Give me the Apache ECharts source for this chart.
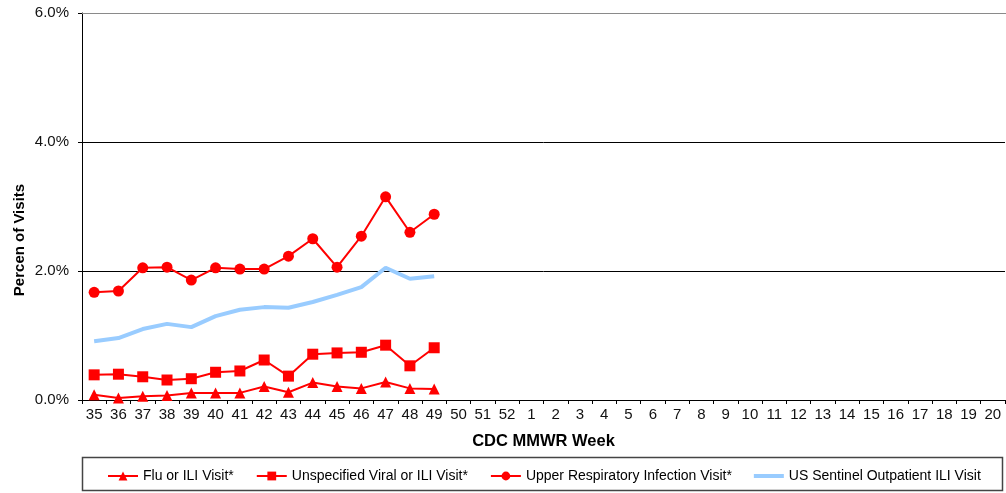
<!DOCTYPE html>
<html><head><meta charset="utf-8">
<script src="https://cdn.jsdelivr.net/npm/echarts@6/dist/echarts.min.js"></script>
<style>html,body{margin:0;padding:0;background:#fff}#c{width:1006px;height:493px}</style>
</head><body><div id="c"></div>
<script>
const weeks = ['35','36','37','38','39','40','41','42','43','44','45','46','47','48','49','50','51','52','1','2','3','4','5','6','7','8','9','10','11','12','13','14','15','16','17','18','19','20'];
const fluILI = [0.08,0.03,0.06,0.07,0.11,0.11,0.11,0.21,0.12,0.27,0.21,0.18,0.28,0.18,0.17];
const unspecViral = [0.39,0.40,0.36,0.31,0.33,0.43,0.45,0.62,0.37,0.71,0.73,0.74,0.85,0.53,0.81];
const upperResp = [1.67,1.69,2.05,2.06,1.86,2.05,2.03,2.03,2.23,2.50,2.06,2.54,3.15,2.60,2.88];
const sentinel = [0.91,0.96,1.10,1.18,1.13,1.30,1.40,1.44,1.43,1.52,1.63,1.75,2.05,1.88,1.92];
const yTicks = [0,2,4,6];

const chart = echarts.init(document.getElementById('c'));
const font = 'Liberation Sans, Arial, sans-serif';
const red = '#ff0000';
function redSeries(name, data, symbol, size){
  return {name, type:'line', data, symbol, symbolSize:size, showSymbol:true,
    lineStyle:{color:red,width:2}, itemStyle:{color:red}, emphasis:{disabled:true}};
}
chart.setOption({
  animation:false,
  grid:{left:82,right:1,top:13,bottom:93},
  xAxis:{type:'category',data:weeks,boundaryGap:true,
    name:'CDC MMWR Week',nameLocation:'middle',nameGap:33,
    nameTextStyle:{fontFamily:font,fontSize:16.5,fontWeight:'bold',color:'#000'},
    axisLine:{lineStyle:{color:'#000',width:1}},
    axisTick:{show:true,alignWithLabel:false,length:4,lineStyle:{color:'#000'}},
    axisLabel:{fontFamily:font,fontSize:15,color:'#111',margin:7,interval:0},
    splitLine:{show:false}},
  yAxis:{type:'value',min:0,max:6,interval:2,
    axisLine:{show:true,lineStyle:{color:'#000',width:1}},
    axisTick:{show:true,length:4,lineStyle:{color:'#000'}},
    axisLabel:{fontFamily:font,fontSize:15,color:'#111',margin:13,
      formatter:v=>yTicks.includes(v)?v.toFixed(1)+'%':''},
    splitLine:{show:true,lineStyle:{color:'#000',width:1}}},
  legend:{bottom:5,left:102,itemWidth:30,itemHeight:11,itemGap:22,
    textStyle:{fontFamily:font,fontSize:14,color:'#000'},
    data:['Flu or ILI Visit*','Unspecified Viral or ILI Visit*','Upper Respiratory Infection Visit*',
      {name:'US Sentinel Outpatient ILI Visit',icon:'path://M0,0H30V4H0Z'}]},
  graphic:[
    {type:'rect',shape:{x:82.5,y:457.5,width:920,height:33},style:{fill:'none',stroke:'#444',lineWidth:1.5},silent:true},
    {type:'line',shape:{x1:82,y1:13.5,x2:1006,y2:13.5},style:{stroke:'#8a8a8a',lineWidth:1},z:100,silent:true},
    {type:'text',x:20,y:240,rotation:Math.PI/2,style:{text:'Percen of Visits',font:'bold 15px '+font,fill:'#000',textAlign:'center',textVerticalAlign:'middle'}}
  ],
  series:[
    redSeries('Flu or ILI Visit*',fluILI,'triangle',11),
    redSeries('Unspecified Viral or ILI Visit*',unspecViral,'rect',11),
    redSeries('Upper Respiratory Infection Visit*',upperResp,'circle',11),
    {name:'US Sentinel Outpatient ILI Visit',type:'line',data:sentinel,symbol:'none',
      lineStyle:{color:'#99ccff',width:4},itemStyle:{color:'#99ccff'},emphasis:{disabled:true}}
  ]
});
</script></body></html>
